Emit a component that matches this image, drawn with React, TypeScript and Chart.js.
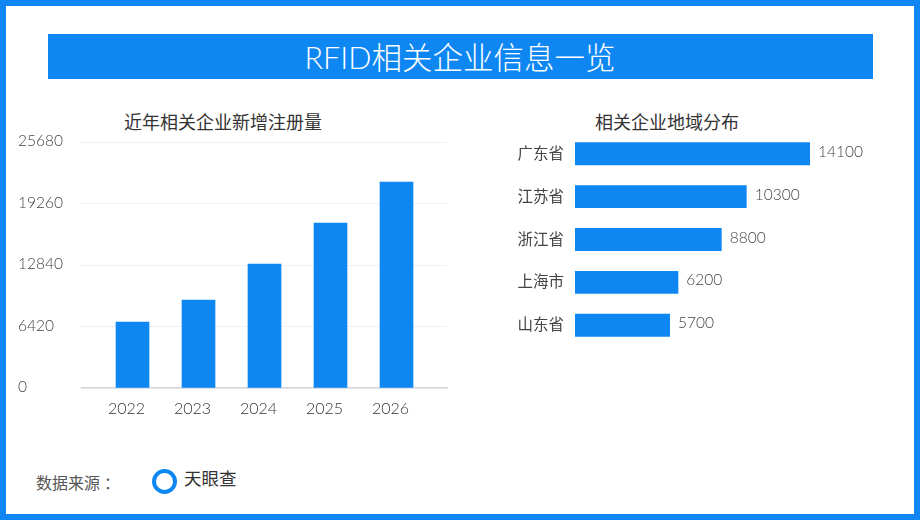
import { useEffect, useRef } from "react";
import { Chart, registerables } from "chart.js";

Chart.register(...registerables);

const FONT = 'Lato, "Noto Sans CJK SC", sans-serif';
const BLUE = "#0F87F2";

const years = [2022, 2023, 2024, 2025, 2026];
const registered = [6900, 9200, 12960, 17240, 21520];
const yearTicks = [0, 6420, 12840, 19260, 25680];

const provinces = ["广东省", "江苏省", "浙江省", "上海市", "山东省"];
const companies = [14100, 10300, 8800, 6200, 5700];

// prints the value just past the end of each horizontal bar
const valueLabels = {
  id: "valueLabels",
  afterDatasetsDraw(chart: any) {
    const { ctx } = chart;
    ctx.save();
    ctx.font = `300 15.5px ${FONT}`;
    ctx.fillStyle = "#444444";
    ctx.textAlign = "left";
    ctx.textBaseline = "middle";
    chart.getDatasetMeta(0).data.forEach((bar: any, i: number) => {
      ctx.fillText(String(companies[i]), bar.x + 8, bar.y - 2);
    });
    ctx.restore();
  },
};

function YearChart() {
  const chartRef = useRef<HTMLCanvasElement>(null);

  useEffect(() => {
    if (!chartRef.current) return;
    const chart = new Chart(chartRef.current, {
      type: "bar",
      data: {
        datasets: [
          {
            data: years.map((year, i) => ({ x: year, y: registered[i] })),
            backgroundColor: BLUE,
            barThickness: 33,
          },
        ],
      },
      options: {
        responsive: false,
        animation: false,
        layout: { padding: { top: 12, right: 3, bottom: 0, left: 0 } },
        plugins: { legend: { display: false }, tooltip: { enabled: false } },
        scales: {
          x: {
            type: "linear",
            offset: false,
            // the plot runs wider on the left than the categories need
            min: 2021.2348,
            max: 2026.7652,
            afterBuildTicks: (axis: any) => {
              axis.ticks = years.map((value) => ({ value }));
            },
            afterFit: (axis: any) => {
              axis.height = 42;
            },
            grid: { display: false },
            border: { color: "#D3D6DC", width: 1.5 },
            ticks: {
              autoSkip: false,
              maxRotation: 0,
              labelOffset: -6,
              padding: 3,
              color: "#333333",
              font: { family: FONT, size: 16, weight: 300 },
              callback: (value: any) => String(value),
            },
          },
          y: {
            min: 0,
            max: 25680,
            afterBuildTicks: (axis: any) => {
              axis.ticks = yearTicks.map((value) => ({ value }));
            },
            afterFit: (axis: any) => {
              axis.width = 64;
            },
            grid: { color: "#EEF2F7", tickLength: 3 },
            border: { display: false },
            ticks: {
              crossAlign: "far",
              labelOffset: -1,
              color: "#444444",
              font: { family: FONT, size: 15.5, weight: 300 },
              callback: (value: any) => String(value),
            },
          },
        },
      },
    } as any);
    return () => chart.destroy();
  }, []);

  return (
    <canvas
      ref={chartRef}
      width={432}
      height={300}
      style={{ position: "absolute", left: 18, top: 130 }}
    />
  );
}

function ProvinceChart() {
  const chartRef = useRef<HTMLCanvasElement>(null);

  useEffect(() => {
    if (!chartRef.current) return;
    const chart = new Chart(chartRef.current, {
      type: "bar",
      data: {
        labels: provinces,
        datasets: [
          {
            data: companies,
            backgroundColor: BLUE,
            categoryPercentage: 23 / 43,
            barPercentage: 1,
          },
        ],
      },
      options: {
        indexAxis: "y",
        responsive: false,
        animation: false,
        layout: { padding: 0 },
        plugins: { legend: { display: false }, tooltip: { enabled: false } },
        scales: {
          x: { display: false, min: 0, max: 18000 },
          y: {
            afterFit: (axis: any) => {
              axis.width = 75;
            },
            grid: { display: false, drawTicks: false },
            border: { display: false },
            ticks: {
              padding: 11,
              color: "#444444",
              font: { family: FONT, size: 15.5 },
            },
          },
        },
      },
      plugins: [valueLabels],
    } as any);
    return () => chart.destroy();
  }, []);

  return (
    <canvas
      ref={chartRef}
      width={375}
      height={255}
      style={{ position: "absolute", left: 500, top: 112 }}
    />
  );
}

function Label(props: { x: number; y: number; size: number; color: string; text: string; center?: boolean; weight?: number }) {
  return (
    <div
      style={{
        position: "absolute",
        left: props.x,
        top: props.y,
        transform: props.center ? "translate(-50%, -50%)" : "translateY(-50%)",
        fontSize: props.size,
        fontWeight: props.weight ?? 400,
        color: props.color,
        whiteSpace: "nowrap",
        lineHeight: 1,
      }}
    >
      {props.text}
    </div>
  );
}

export default function App() {
  return (
    <div
      style={{
        position: "absolute",
        left: 0,
        top: 0,
        width: 920,
        height: 520,
        background: "#fff",
        boxShadow: `inset 0 0 0 6px ${BLUE}`,
        fontFamily: FONT,
        overflow: "hidden",
      }}
    >
      <div style={{ position: "absolute", left: 48, top: 34, width: 825, height: 45, background: BLUE }} />
      <Label x={460} y={57} size={30.5} color="#ffffff" text="RFID相关企业信息一览" center weight={300} />
      <Label x={223} y={122} size={18} color="#333333" text="近年相关企业新增注册量" center />
      <Label x={667} y={122} size={18} color="#333333" text="相关企业地域分布" center />
      <YearChart />
      <ProvinceChart />
      <Label x={36} y={483} size={16} color="#555555" text="数据来源 ：" />
      <div
        style={{
          position: "absolute",
          left: 152,
          top: 469,
          width: 25,
          height: 25,
          boxSizing: "border-box",
          border: `4.5px solid ${BLUE}`,
          borderRadius: "50%",
        }}
      />
      <Label x={184} y={479} size={17.5} color="#333333" text="天眼查" />
    </div>
  );
}
